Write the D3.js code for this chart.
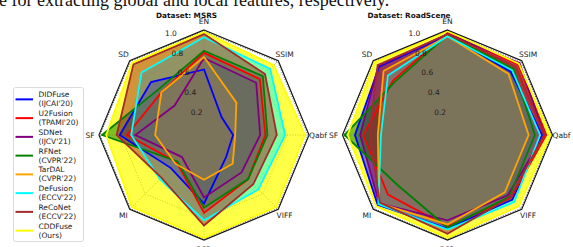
<!DOCTYPE html>
<html>
<head>
<meta charset="utf-8">
<script src="https://cdn.jsdelivr.net/npm/d3@7"></script>
<style>
  body { margin: 0; background: #fff; }
  text { font-family: "DejaVu Sans", sans-serif; }
</style>
</head>
<body>
<script>
const width = 573;
const height = 247;

const metrics = ["EN", "SSIM", "Qabf", "VIFF", "SCD", "MI", "SF", "SD"];
const methods = ["DIDFuse", "U2Fusion", "SDNet", "RFNet", "TarDAL", "DeFusion", "ReCoNet", "CDDFuse"];
const venues = ["(IJCAI'20)", "(TPAMI'20)", "(IJCV'21)", "(CVPR'22)", "(CVPR'22)", "(ECCV'22)", "(ECCV'22)", "(Ours)"];
const colors = ["blue", "red", "purple", "green", "orange", "cyan", "brown", "yellow"];
const rTicks = [0.2, 0.4, 0.6, 0.8, 1.0];

// one row per method, columns follow metrics
const msrs = [
  [0.63, 0.24, 0.28, 0.30, 0.66, 0.45, 0.81, 0.72],
  [0.79, 0.76, 0.59, 0.60, 0.75, 0.37, 0.74, 0.58],
  [0.74, 0.71, 0.54, 0.51, 0.60, 0.30, 0.66, 0.40],
  [0.81, 0.80, 0.61, 0.60, 0.70, 0.36, 0.98, 0.62],
  [0.75, 0.44, 0.30, 0.39, 0.43, 0.39, 0.47, 0.58],
  [0.94, 0.90, 0.78, 0.74, 0.82, 0.60, 0.70, 0.85],
  [0.97, 0.83, 0.70, 0.67, 0.87, 0.58, 0.84, 0.96],
  [0.99, 0.95, 0.97, 0.98, 0.99, 0.98, 0.94, 0.98]
];
const roadscene = [
  [0.96, 0.86, 0.91, 0.88, 0.90, 0.95, 0.89, 0.93],
  [0.98, 0.96, 0.95, 0.86, 0.88, 0.81, 0.81, 0.74],
  [0.97, 0.98, 0.93, 0.82, 0.82, 0.93, 0.84, 0.94],
  [0.96, 0.90, 0.84, 0.84, 0.89, 0.68, 0.99, 0.72],
  [0.95, 0.83, 0.78, 0.78, 0.86, 0.93, 0.67, 0.87],
  [0.95, 0.88, 0.89, 0.91, 0.91, 0.94, 0.64, 0.81],
  [0.97, 0.93, 0.93, 0.85, 0.95, 0.92, 0.75, 0.95],
  [1.00, 0.97, 0.99, 0.97, 0.99, 0.97, 0.96, 0.99]
];

const svg = d3.select("body")
  .append("svg")
  .attr("width", width)
  .attr("height", height);

// cropped line of the paper text above the figure
svg.append("text")
  .attr("x", -1)
  .attr("y", 5.5)
  .style("font-family", "'Liberation Serif', serif")
  .style("font-size", "18px")
  .attr("fill", "#111")
  .text("e for extracting global and local features, respectively.");

const r = d3.scaleLinear().domain([0, 1]).range([0, 104]);
const angle = d3.scaleLinear().domain([0, metrics.length]).range([0, 2 * Math.PI]);

const radial = d3.lineRadial()
  .angle((d, i) => angle(i))
  .radius(d => r(d))
  .curve(d3.curveLinearClosed);

function radar(cx, cy, title, titleX, data) {
  const g = svg.append("g").attr("transform", `translate(${cx},${cy})`);

  // dotted grid
  rTicks.forEach(t => {
    g.append("path")
      .attr("d", radial(metrics.map(() => t)))
      .attr("fill", "none")
      .attr("stroke", "#222")
      .attr("stroke-width", 0.8)
      .attr("stroke-dasharray", "1,1.6");
  });
  metrics.forEach((m, i) => {
    const p = d3.pointRadial(angle(i), r(1));
    g.append("line")
      .attr("x1", 0).attr("y1", 0)
      .attr("x2", p[0]).attr("y2", p[1])
      .attr("stroke", "#222")
      .attr("stroke-width", 0.8)
      .attr("stroke-dasharray", "1,1.6");
  });

  // fills: ours underneath, others over it
  const order = [7, 0, 1, 2, 3, 4, 5, 6];
  order.forEach(k => {
    g.append("path")
      .attr("d", radial(data[k]))
      .attr("fill", colors[k])
      .attr("fill-opacity", k === 7 ? 0.72 : 0.5)
      .attr("stroke", "none");
  });
  data.forEach((vals, k) => {
    g.append("path")
      .attr("d", radial(vals))
      .attr("fill", "none")
      .attr("stroke", colors[k])
      .attr("stroke-width", 1.8)
      .attr("stroke-linejoin", "miter");
  });

  // frame
  g.append("path")
    .attr("d", radial(metrics.map(() => 1.01)))
    .attr("fill", "none")
    .attr("stroke", "#111")
    .attr("stroke-width", 1.1);

  // radial tick labels
  const tickAngle = -18 * Math.PI / 180;
  rTicks.forEach(t => {
    const p = d3.pointRadial(tickAngle, r(t) + 3);
    g.append("text")
      .attr("x", p[0]).attr("y", p[1])
      .attr("text-anchor", "middle")
      .attr("dominant-baseline", "central")
      .style("font-size", "7.5px")
      .attr("fill", "#222")
      .text(t.toFixed(1));
  });

  metrics.forEach((m, i) => {
    const p = d3.pointRadial(angle(i), 114);
    g.append("text")
      .attr("x", p[0]).attr("y", p[1])
      .attr("text-anchor", "middle")
      .attr("dominant-baseline", "central")
      .style("font-size", "7.5px")
      .attr("fill", "#222")
      .text(m);
  });

  svg.append("text")
    .attr("x", titleX)
    .attr("y", 15)
    .attr("text-anchor", "middle")
    .attr("dominant-baseline", "central")
    .style("font-size", "7.3px")
    .style("font-weight", "bold")
    .attr("fill", "#111")
    .text(title);
}

radar(204, 135, "Dataset: MSRS", 186.5, msrs);
radar(447.5, 135, "Dataset: RoadScene", 409, roadscene);

// legend
const legendY = d3.scaleBand().domain(methods).range([90, 240]);
const legend = svg.append("g");
legend.append("rect")
  .attr("x", 13.5).attr("y", 87.5)
  .attr("width", 70).attr("height", 154)
  .attr("rx", 2)
  .attr("fill", "#fff")
  .attr("stroke", "#d0d0d0")
  .attr("stroke-width", 0.8);

const item = legend.selectAll("g.item")
  .data(methods)
  .enter()
  .append("g")
  .attr("class", "item")
  .attr("transform", d => `translate(0,${legendY(d) + legendY.bandwidth() / 2})`);

item.append("line")
  .attr("x1", 15.5).attr("x2", 33)
  .attr("y1", 0).attr("y2", 0)
  .attr("stroke", (d, i) => colors[i])
  .attr("stroke-width", 2);

item.append("text")
  .attr("x", 38.5)
  .attr("y", -4.5)
  .attr("dominant-baseline", "central")
  .style("font-size", "7.5px")
  .attr("fill", "#222")
  .text(d => d);

item.append("text")
  .attr("x", 38.5)
  .attr("y", 4.5)
  .attr("dominant-baseline", "central")
  .style("font-size", "7.5px")
  .attr("fill", "#222")
  .text((d, i) => venues[i]);
</script>
</body>
</html>
